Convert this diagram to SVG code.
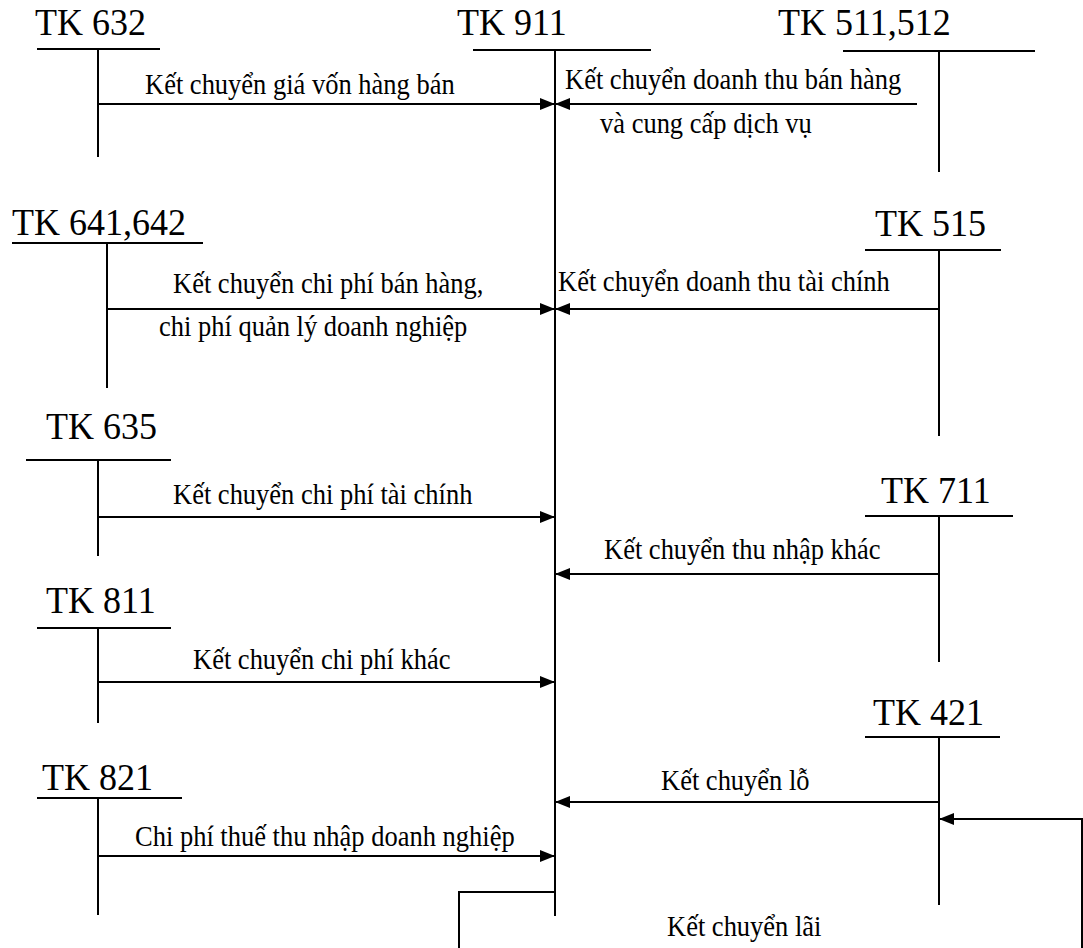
<svg xmlns="http://www.w3.org/2000/svg" width="1083" height="948" viewBox="0 0 1083 948">
  <style>
    .title { font-family: "Liberation Serif", "Times New Roman", "DejaVu Serif", serif; font-size: 36px; fill: #000; }
    .label { font-family: "Liberation Serif", "Times New Roman", "DejaVu Serif", serif; font-size: 26.5px; fill: #000; }
    .t-line { stroke: #000; stroke-width: 2; fill: none; }
    .flow { stroke: #000; stroke-width: 2; fill: none; marker-end: url(#arrow); }
    .route { stroke: #000; stroke-width: 2; fill: none; }
  </style>
  <defs>
    <marker id="arrow" markerUnits="userSpaceOnUse" markerWidth="16" markerHeight="12" refX="15" refY="6" orient="auto">
      <path d="M0,0 L15,6 L0,12 Z" fill="#000"/>
    </marker>
  </defs>
  <rect width="1083" height="948" fill="#fff"/>

  <!-- T-accounts: title, top bar and stem -->
  <g id="tk632">
    <text class="title" transform="translate(35,35) scale(1,1.05)">TK 632</text>
    <line class="t-line" x1="37" y1="49" x2="160" y2="49"/>
    <line class="t-line" x1="98" y1="49" x2="98" y2="157"/>
  </g>
  <g id="tk911">
    <text class="title" transform="translate(457,35) scale(1,1.05)">TK 911</text>
    <line class="t-line" x1="473" y1="50" x2="651" y2="50"/>
    <line class="t-line" x1="555" y1="50" x2="555" y2="916"/>
  </g>
  <g id="tk511-512">
    <text class="title" transform="translate(778,35) scale(1,1.05)">TK 511,512</text>
    <line class="t-line" x1="843" y1="51" x2="1035" y2="51"/>
    <line class="t-line" x1="939" y1="51" x2="939" y2="172"/>
  </g>
  <g id="tk641-642">
    <text class="title" transform="translate(12,235) scale(1,1.05)">TK 641,642</text>
    <line class="t-line" x1="12" y1="243" x2="203" y2="243"/>
    <line class="t-line" x1="107" y1="243" x2="107" y2="388"/>
  </g>
  <g id="tk515">
    <text class="title" transform="translate(875,236) scale(1,1.05)">TK 515</text>
    <line class="t-line" x1="865" y1="250" x2="1001" y2="250"/>
    <line class="t-line" x1="939" y1="250" x2="939" y2="436"/>
  </g>
  <g id="tk635">
    <text class="title" transform="translate(46,439) scale(1,1.05)">TK 635</text>
    <line class="t-line" x1="26" y1="460" x2="171" y2="460"/>
    <line class="t-line" x1="98" y1="460" x2="98" y2="556"/>
  </g>
  <g id="tk711">
    <text class="title" transform="translate(881,503) scale(1,1.05)">TK 711</text>
    <line class="t-line" x1="865" y1="516" x2="1013" y2="516"/>
    <line class="t-line" x1="939" y1="516" x2="939" y2="662"/>
  </g>
  <g id="tk811">
    <text class="title" transform="translate(46,613) scale(1,1.05)">TK 811</text>
    <line class="t-line" x1="37" y1="628" x2="171" y2="628"/>
    <line class="t-line" x1="98" y1="628" x2="98" y2="723"/>
  </g>
  <g id="tk421">
    <text class="title" transform="translate(873,725) scale(1,1.05)">TK 421</text>
    <line class="t-line" x1="865" y1="737" x2="1000" y2="737"/>
    <line class="t-line" x1="939" y1="737" x2="939" y2="905"/>
  </g>
  <g id="tk821">
    <text class="title" transform="translate(42,790) scale(1,1.05)">TK 821</text>
    <line class="t-line" x1="37" y1="798" x2="182" y2="798"/>
    <line class="t-line" x1="98" y1="798" x2="98" y2="915"/>
  </g>

  <!-- Transfers into and out of TK 911 -->
  <g id="connectors">
    <line class="flow" x1="98" y1="104" x2="555" y2="104"/>
    <text class="label" transform="translate(145,94) scale(1,1.12)">Kết chuyển giá vốn hàng bán</text>

    <line class="flow" x1="917" y1="104" x2="555" y2="104"/>
    <text class="label" transform="translate(565,89) scale(1,1.12)">Kết chuyển doanh thu bán hàng</text>
    <text class="label" transform="translate(600,133) scale(1,1.12)">và cung cấp dịch vụ</text>

    <line class="flow" x1="107" y1="309" x2="555" y2="309"/>
    <text class="label" transform="translate(173,293) scale(1,1.12)">Kết chuyển chi phí bán hàng,</text>
    <text class="label" transform="translate(159,336) scale(1,1.12)">chi phí quản lý doanh nghiệp</text>

    <line class="flow" x1="939" y1="309" x2="555" y2="309"/>
    <text class="label" transform="translate(558,291) scale(1,1.12)">Kết chuyển doanh thu tài chính</text>

    <line class="flow" x1="98" y1="517" x2="555" y2="517"/>
    <text class="label" transform="translate(173,504) scale(1,1.12)">Kết chuyển chi phí tài chính</text>

    <line class="flow" x1="939" y1="574" x2="555" y2="574"/>
    <text class="label" transform="translate(604,559) scale(1,1.12)">Kết chuyển thu nhập khác</text>

    <line class="flow" x1="98" y1="682" x2="555" y2="682"/>
    <text class="label" transform="translate(193,669) scale(1,1.12)">Kết chuyển chi phí khác</text>

    <line class="flow" x1="939" y1="802" x2="555" y2="802"/>
    <text class="label" transform="translate(661,790) scale(1,1.12)">Kết chuyển lỗ</text>

    <line class="flow" x1="98" y1="856" x2="555" y2="856"/>
    <text class="label" transform="translate(135,846) scale(1,1.12)">Chi phí thuế thu nhập doanh nghiệp</text>

    <!-- profit transfer loop from TK 911 round to TK 421 -->
    <polyline class="route" points="555,892 459,892 459,950"/>
    <polyline class="flow" points="1082,950 1082,819 939,819"/>
    <text class="label" transform="translate(667,936) scale(1,1.12)">Kết chuyển lãi</text>
  </g>
</svg>
